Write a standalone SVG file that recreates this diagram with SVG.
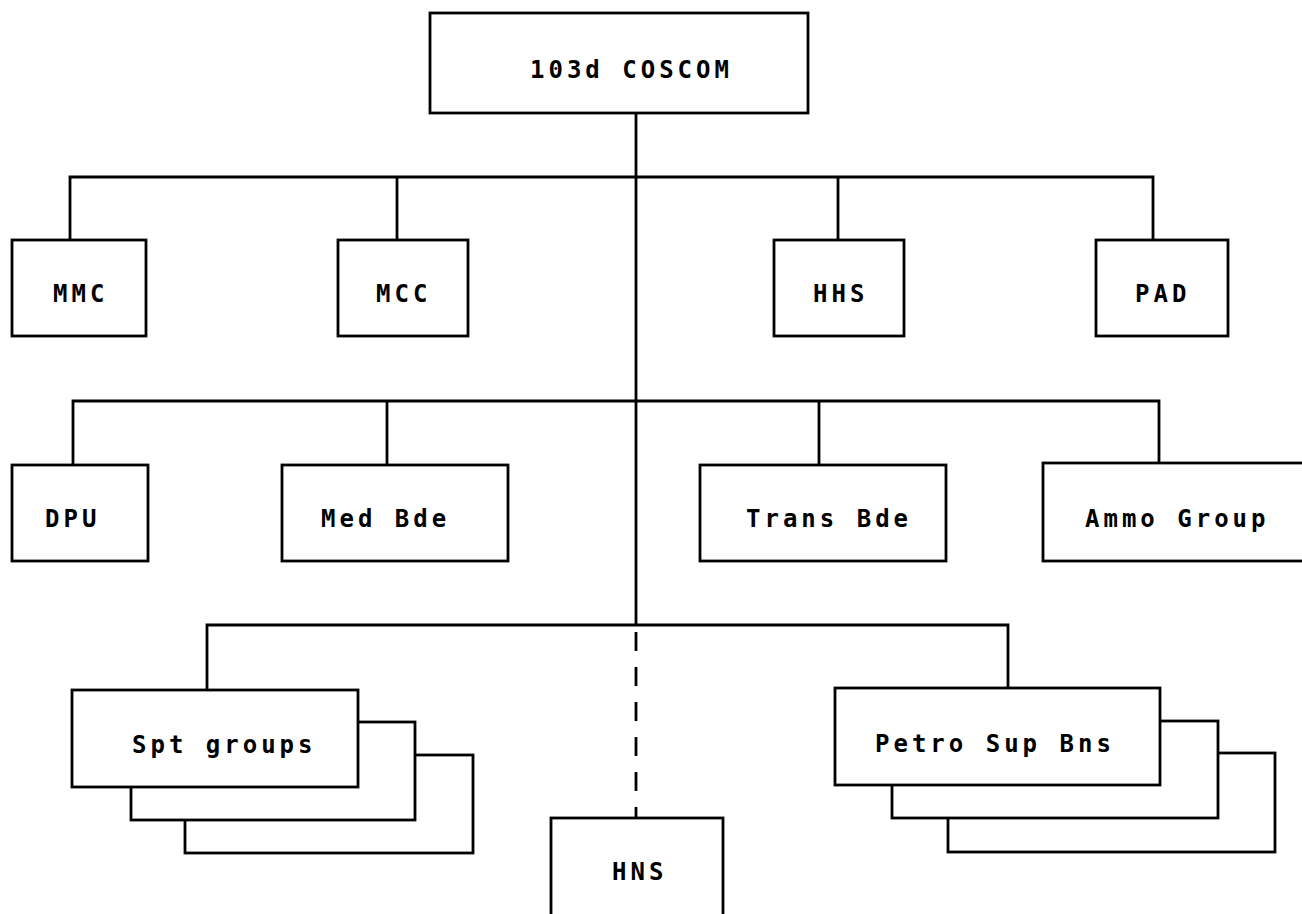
<svg xmlns="http://www.w3.org/2000/svg" width="1302" height="914" viewBox="0 0 1302 914">
<style>
  rect { fill: #fff; stroke: #000; stroke-width: 2.8; }
  .c { fill: none; stroke: #000; stroke-width: 2.8; }
  .d { fill: none; stroke: #000; stroke-width: 2.8; stroke-dasharray: 19 16; }
  text { font-family: "DejaVu Sans Mono", "Liberation Mono", monospace; font-size: 24px; font-weight: bold; letter-spacing: 4px; fill: #000; }
</style>
<rect x="0" y="0" width="1302" height="914" style="fill:#fff;stroke:none"/>
<g id="connectors">
  <path class="c" d="M636 113 V625"/>
  <path class="c" d="M70 240 V177 H1153 V240"/>
  <path class="c" d="M397 177 V240"/>
  <path class="c" d="M838 177 V240"/>
  <path class="c" d="M73 465 V401 H1159 V463"/>
  <path class="c" d="M387 401 V465"/>
  <path class="c" d="M819 401 V465"/>
  <path class="c" d="M207 690 V625 H1008 V688"/>
  <path class="d" d="M636 632 V818"/>
</g>
<g id="coscom"><rect x="430" y="13" width="378" height="100"/><text x="530" y="78">103d COSCOM</text></g>
<g id="mmc"><rect x="12" y="240" width="134" height="96"/><text x="53" y="302">MMC</text></g>
<g id="mcc"><rect x="338" y="240" width="130" height="96"/><text x="376" y="302">MCC</text></g>
<g id="hhs"><rect x="774" y="240" width="130" height="96"/><text x="813" y="302">HHS</text></g>
<g id="pad"><rect x="1096" y="240" width="132" height="96"/><text x="1135" y="302">PAD</text></g>
<g id="dpu"><rect x="12" y="465" width="136" height="96"/><text x="45" y="527">DPU</text></g>
<g id="medbde"><rect x="282" y="465" width="226" height="96"/><text x="321" y="527">Med Bde</text></g>
<g id="transbde"><rect x="700" y="465" width="246" height="96"/><text x="746" y="527">Trans Bde</text></g>
<g id="ammo"><rect x="1043" y="463" width="280" height="98"/><text x="1085" y="527">Ammo Group</text></g>
<g id="sptgroups">
  <rect x="185" y="755" width="288" height="98"/>
  <rect x="131" y="722" width="284" height="98"/>
  <rect x="72" y="690" width="286" height="97"/>
  <text x="132" y="753">Spt groups</text>
</g>
<g id="hns"><rect x="551" y="818" width="172" height="120"/><text x="612" y="880">HNS</text></g>
<g id="petro">
  <rect x="948" y="753" width="327" height="99"/>
  <rect x="892" y="721" width="326" height="97"/>
  <rect x="835" y="688" width="325" height="97"/>
  <text x="875" y="752">Petro Sup Bns</text>
</g>
</svg>
